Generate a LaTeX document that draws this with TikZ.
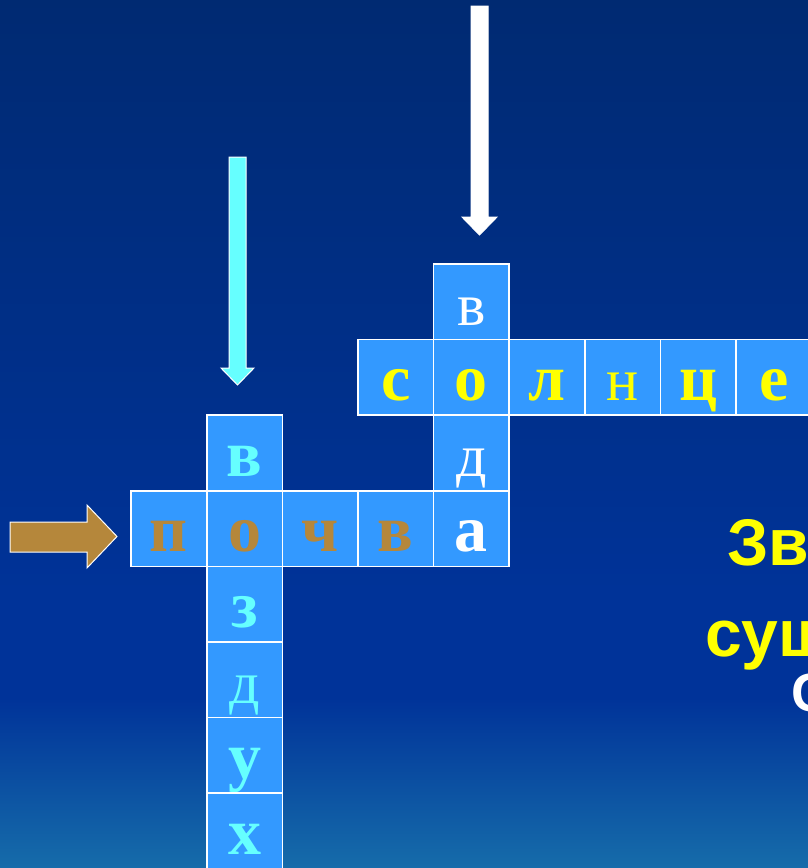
\documentclass[tikz,border=0pt]{standalone}
\usepackage{fontspec}
\setmainfont{Liberation Serif}
\newfontfamily\sansb{Liberation Sans}
\definecolor{bgtop}{HTML}{002A72}
\definecolor{bgmid}{HTML}{003399}
\definecolor{bgbot}{HTML}{166CAA}
\definecolor{cellblue}{HTML}{3399FF}
\definecolor{ltyellow}{HTML}{FFFF00}
\definecolor{ltbrown}{HTML}{B5873B}
\definecolor{ltcyan}{HTML}{66FFFF}
% 100bp shading; the path is mapped onto 25bp..75bp
\pgfdeclareverticalshading{bgshade}{100bp}{color(0bp)=(bgbot); color(25bp)=(bgbot); color(34.8bp)=(bgmid); color(40bp)=(bgmid); color(75bp)=(bgtop); color(100bp)=(bgtop)}
\tikzset{
  cellbox/.style={draw=white, line width=1.5pt, fill=cellblue, minimum width=75.6pt, minimum height=75.6pt, inner sep=0pt, text height=50pt, text depth=3.5pt},
  bl/.style={font=\fontsize{66}{66}\selectfont\bfseries},
  rl/.style={font=\fontsize{60}{60}\selectfont},
  sidetext/.style={anchor=base west, inner sep=0pt, font=\sansb\fontsize{66}{66}\selectfont\bfseries},
  blockarrow/.style={draw=white, line width=1pt, line join=miter}
}
\begin{document}
\begin{tikzpicture}[x=1pt,y=-1pt]
\useasboundingbox (0,0) rectangle (808,868);
\clip (0,0) rectangle (808,868);
\shade[shading=bgshade] (0,0) rectangle (808,868);
% вода (col 4)
\node[cellbox,rl,text=white] (v1) at (169+75.6*4, 301.8) {в};
\node[cellbox,bl,text=ltyellow] (v2) at (169+75.6*4, 301.8+75.6) {о};
\node[cellbox,rl,text=white] (v3) at (169+75.6*4, 301.8+75.6*2) {д};
\node[cellbox,bl,text=white] (v4) at (169+75.6*4, 301.8+75.6*3) {а};
% солнце (row 1)
\node[cellbox,bl,text=ltyellow] (s1) at (169+75.6*3, 301.8+75.6) {с};
\node[cellbox,bl,text=ltyellow] (s3) at (169+75.6*5, 301.8+75.6) {л};
\node[cellbox,rl,text=ltyellow] (s4) at (169+75.6*6, 301.8+75.6) {н};
\node[cellbox,bl,text=ltyellow] (s5) at (169+75.6*7, 301.8+75.6) {ц};
\node[cellbox,bl,text=ltyellow] (s6) at (169+75.6*8, 301.8+75.6) {е};
% почва (row 3)
\node[cellbox,bl,text=ltbrown] (p1) at (169, 301.8+75.6*3) {п};
\node[cellbox,bl,text=ltbrown] (p2) at (169+75.6, 301.8+75.6*3) {о};
\node[cellbox,bl,text=ltbrown] (p3) at (169+75.6*2, 301.8+75.6*3) {ч};
\node[cellbox,bl,text=ltbrown] (p4) at (169+75.6*3, 301.8+75.6*3) {в};
% воздух (col 1)
\node[cellbox,bl,text=ltcyan] (a1) at (169+75.6, 301.8+75.6*2) {в};
\node[cellbox,bl,text=ltcyan] (a3) at (169+75.6, 301.8+75.6*4) {з};
\node[cellbox,rl,text=ltcyan] (a4) at (169+75.6, 301.8+75.6*5) {д};
\node[cellbox,bl,text=ltcyan] (a5) at (169+75.6, 301.8+75.6*6) {у};
\node[cellbox,bl,text=ltcyan] (a6) at (169+75.6, 301.8+75.6*7) {х};
% arrows
\filldraw[blockarrow, fill=white] (471,6) -- (488,6) -- (488,217) -- (497,217) -- (479.5,235) -- (462,217) -- (471,217) -- cycle;
\filldraw[blockarrow, fill=ltcyan] (229,157) -- (246,157) -- (246,368) -- (254,368) -- (237.5,385) -- (221,368) -- (229,368) -- cycle;
\filldraw[blockarrow, fill=ltbrown] (10,522) -- (87,522) -- (87,505) -- (117,536.5) -- (87,568) -- (87,552) -- (10,552) -- cycle;
% side text (cut off at the right edge, as in the reference)
\node[sidetext, text=ltyellow] (t1) at (727,565) {Зв};
\node[sidetext, text=ltyellow] (t2) at (705,656) {сущ};
\node[sidetext, text=white, font=\sansb\fontsize{54}{54}\selectfont\bfseries] (t3) at (791,711) {С};
\end{tikzpicture}
\end{document}
